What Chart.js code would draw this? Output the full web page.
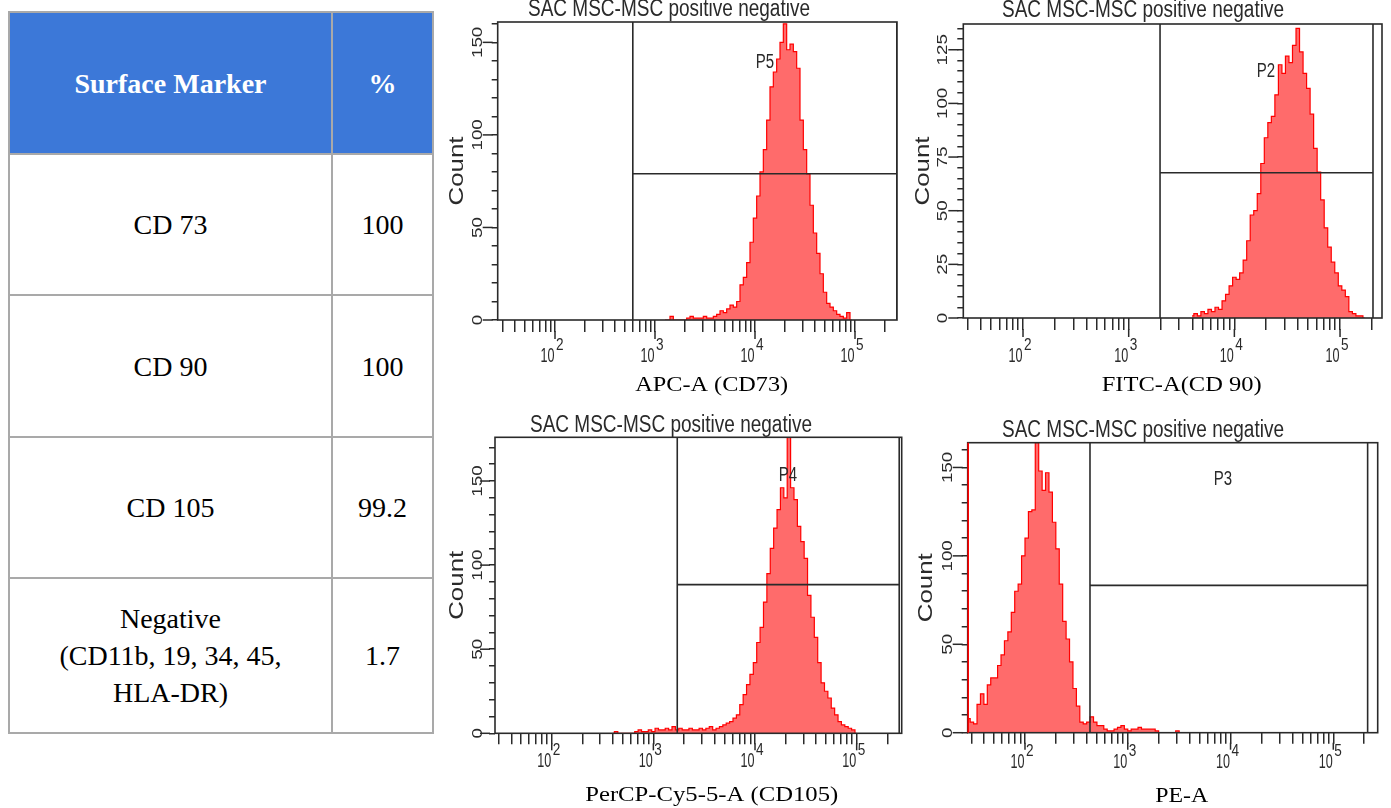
<!DOCTYPE html>
<html>
<head>
<meta charset="utf-8">
<script src="https://cdn.jsdelivr.net/npm/chart.js@4.4.1/dist/chart.umd.min.js"></script>
<style>
  body { margin: 0; width: 1391px; height: 808px; background: #fff; position: relative; overflow: hidden; }
  #markers { position: absolute; left: 8px; top: 11px; width: 424px; border-collapse: collapse; table-layout: fixed;
             font-family: 'Liberation Serif', 'Times New Roman', serif; font-size: 28px; color: #000; }
  #markers th, #markers td { border: 2px solid #a9a9a9; text-align: center; vertical-align: middle; padding: 0; line-height: 37px; }
  #markers th { background: #3c78d8; color: #fff; font-weight: bold; }
  canvas { position: absolute; }
</style>
</head>
<body>
<table id="markers">
  <colgroup><col style="width:323px"><col style="width:101px"></colgroup>
</table>
<canvas id="c1"></canvas>
<canvas id="c2"></canvas>
<canvas id="c3"></canvas>
<canvas id="c4"></canvas>
<script>
// Table values
const markers = ['CD 73', 'CD 90', 'CD 105', 'Negative\n(CD11b, 19, 34, 45,\nHLA-DR)'];
const percents = ['100', '100', '99.2', '1.7'];

// Histogram channels, equal widths on the log axis (decades)
const binWidth = 1 / 30;

// APC-A (CD73), first channel at 10^3.1
const cd73Start = 3.1;
const cd73Counts = [0, 0, 2, 0, 0, 0, 0, 1, 2, 1, 1, 1, 2, 1, 1, 2, 3, 5, 4, 6, 8, 7, 10, 19, 23, 31, 42, 55, 67, 80,
  92, 108, 126, 134, 141, 150, 160, 146, 149, 145, 136, 108, 92, 79, 62, 47, 36, 25, 15, 9, 7, 5, 3, 2, 1, 4, 0];

// FITC-A (CD90), first channel at 10^3.6
const cd90Start = 3.6;
const cd90Counts = [1, 2, 1, 3, 2, 4, 3, 5, 4, 8, 11, 15, 19, 18, 21, 27, 36, 48, 50, 58, 72, 84, 91, 94, 104, 118,
  114, 122, 119, 127, 135, 124, 114, 107, 95, 79, 68, 55, 42, 33, 26, 21, 15, 13, 10, 3, 2, 1, 1, 0];

// PerCP-Cy5-5-A (CD105), first channel at 10^2.6
const cd105Start = 2.6;
const cd105Counts = [0, 1, 0, 0, 0, 0, 0, 1, 2, 1, 1, 2, 1, 3, 2, 2, 3, 2, 4, 2, 3, 2, 2, 3, 2, 2, 3, 2, 3, 4, 2, 3,
  4, 5, 6, 7, 9, 11, 17, 23, 29, 35, 42, 54, 63, 78, 95, 110, 122, 133, 146, 140, 176, 146, 139, 123, 114, 104, 82,
  69, 57, 42, 30, 25, 21, 15, 11, 7, 5, 4, 3, 2, 0];

// PE-A, first channel at 10^1.45
const peStart = 1.45;
const peCounts = [8, 6, 5, 16, 22, 16, 27, 31, 31, 38, 44, 52, 57, 68, 80, 84, 100, 110, 125, 126, 164, 148, 137, 147,
  136, 119, 104, 84, 63, 53, 40, 25, 15, 6, 5, 6, 9, 6, 4, 4, 2, 1, 1, 2, 3, 4, 2, 1, 2, 2, 3, 2, 2, 2, 2, 1, 0, 0, 0,
  0, 0, 1, 0];

// Gates: [left, right, height]
const cd73Gate = [600, 262144, 79];
const cd90Gate = [1980, 205000, 67.7];
const cd105Gate = [1718, 262144, 88.4];
const peGate = [429, 215800, 83.3];

// Gate names: [name, x, count]
const cd73Tag = ['P5', 12600, 139];
const cd90Tag = ['P2', 19860, 115];
const cd105Tag = ['P4', 21090, 153];
const peTag = ['P3', 8430, 143];

// Axis ticks
const xTickValues = [30, 40, 50, 60, 70, 80, 90, 100, 200, 300, 400, 500, 600, 700, 800, 900, 1000, 2000, 3000, 4000,
  5000, 6000, 7000, 8000, 9000, 10000, 20000, 30000, 40000, 50000, 60000, 70000, 80000, 90000, 100000, 200000];
const xDecades = [100, 1000, 10000, 100000];
const xDecadeExp = ['2', '3', '4', '5'];
const countLabelsA = [0, 50, 100, 150];
const countLabelsB = [0, 25, 50, 75, 100, 125];

const plotTitle = 'SAC MSC-MSC positive negative';

// Build the table
const table = document.getElementById('markers');
let html = '<tr style="height:142px"><th>Surface Marker</th><th>%</th></tr>';
const rowHeights = [141, 142, 141, 155];
markers.forEach((m, i) => {
  html += `<tr style="height:${rowHeights[i]}px"><td>${m.replace(/\n/g, '<br>')}</td><td>${percents[i]}</td></tr>`;
});
table.insertAdjacentHTML('beforeend', html);

// Panel layout (page pixels)
const panels = [
  { id: 'c1', canvas: [440, 0, 468, 405], area: [497.7, 22, 897, 320], xr: [1.427, 5.42], yMax: 161, minor: 10, major: 50,
    yLabels: countLabelsA, start: cd73Start, counts: cd73Counts, gate: cd73Gate, tag: cd73Tag,
    title: [669, 16], xTitle: ['APC-A (CD73)', 711.7, 391, 153], countGap: 40.7, yLabelGap: 19.7, xLabelOff: 41.7, tl: [12, 19] },
  { id: 'c2', canvas: [908, 0, 483, 405], area: [963.3, 24, 1382, 318], xr: [1.435, 5.397], yMax: 137, minor: 5, major: 25,
    yLabels: countLabelsB, start: cd90Start, counts: cd90Counts, gate: cd90Gate, tag: cd90Tag,
    title: [1143, 17], xTitle: ['FITC-A(CD 90)', 1181.7, 391, 160], countGap: 40.3, yLabelGap: 20.3, xLabelOff: 43.7, tl: [12, 19] },
  { id: 'c3', canvas: [440, 405, 468, 403], area: [495, 437.3, 901.7, 733.3], xr: [1.442, 5.443], yMax: 176, minor: 10, major: 50,
    yLabels: countLabelsA, start: cd105Start, counts: cd105Counts, gate: cd105Gate, tag: cd105Tag,
    title: [671, 432], xTitle: ['PerCP-Cy5-5-A (CD105)', 711.7, 801, 253], countGap: 37.5, yLabelGap: 17.3, xLabelOff: 33.4, tl: [11, 17] },
  { id: 'c4', canvas: [908, 405, 483, 403], area: [967.7, 442.7, 1377.7, 732.7], xr: [1.4425, 5.432], yMax: 164, minor: 10, major: 50,
    yLabels: countLabelsA, start: peStart, counts: peCounts, gate: peGate, tag: peTag,
    title: [1143, 437], xTitle: ['PE-A', 1181.7, 802, 53], countGap: 41, yLabelGap: 19.7, xLabelOff: 35.6, tl: [11, 17], redEdge: true }
];

const INK = '#2a2a2a';
const SANS = "'Liberation Sans', Arial, sans-serif";
const SERIF = "'Liberation Serif', 'Times New Roman', serif";

// text drawn with its own x/y scale, optional rotation
function drawText(ctx, text, x, y, font, sx, sy, align, baseline, rot) {
  ctx.save();
  ctx.font = font;
  ctx.translate(x, y);
  if (rot) ctx.rotate(rot);
  ctx.scale(sx, sy);
  ctx.textAlign = align;
  ctx.textBaseline = baseline;
  ctx.fillText(text, 0, 0);
  ctx.restore();
}

function fitScale(ctx, text, font, width) {
  ctx.font = font;
  return width / ctx.measureText(text).width;
}

function facsPlugin(p, ox, oy) {
  return {
    id: 'facs',
    afterDraw(chart) {
      const { ctx, chartArea: a, scales: { x, y } } = chart;
      ctx.save();
      ctx.strokeStyle = INK;
      ctx.lineWidth = 1.6;
      ctx.strokeRect(a.left, a.top, a.right - a.left, a.bottom - a.top);
      if (p.redEdge) {
        ctx.strokeStyle = '#ff0000';
        ctx.beginPath(); ctx.moveTo(a.left + 0.5, a.top); ctx.lineTo(a.left + 0.5, a.bottom); ctx.stroke();
        ctx.strokeStyle = INK;
      }
      ctx.lineWidth = 1.5;
      // longer ticks at decades and at major counts
      xDecades.forEach(v => {
        const px = x.getPixelForValue(v);
        ctx.beginPath(); ctx.moveTo(px, a.bottom + p.tl[0] - 1); ctx.lineTo(px, a.bottom + p.tl[1]); ctx.stroke();
      });
      p.yLabels.forEach(v => {
        const py = y.getPixelForValue(v);
        ctx.beginPath(); ctx.moveTo(a.left - 15, py); ctx.lineTo(a.left - 5, py); ctx.stroke();
      });
      ctx.fillStyle = INK;
      // decade labels
      xDecades.forEach((v, i) => {
        const px = x.getPixelForValue(v);
        const base = a.bottom + p.xLabelOff;
        drawText(ctx, '10', px - 0.5, base, '21px ' + SANS, 0.6, 1, 'right', 'alphabetic');
        drawText(ctx, xDecadeExp[i], px + 1, base - 12, '16px ' + SANS, 0.85, 1, 'left', 'alphabetic');
      });
      // count labels, rotated
      p.yLabels.forEach(v => {
        drawText(ctx, String(v), a.left - p.yLabelGap, y.getPixelForValue(v), '15px ' + SANS, 1.25, 1, 'center', 'middle', -Math.PI / 2);
      });
      const cy = (a.top + a.bottom) / 2;
      const cs = fitScale(ctx, 'Count', '21px ' + SANS, 69);
      drawText(ctx, 'Count', a.left - p.countGap, cy, '21px ' + SANS, cs, 1, 'center', 'middle', -Math.PI / 2);
      // plot title
      const ts = fitScale(ctx, plotTitle, '23px ' + SANS, 282);
      drawText(ctx, plotTitle, p.title[0] - ox, p.title[1] - oy, '23px ' + SANS, ts, 1, 'center', 'alphabetic');
      // gate name
      drawText(ctx, p.tag[0], x.getPixelForValue(p.tag[1]), y.getPixelForValue(p.tag[2]), '20px ' + SANS, 0.75, 1, 'center', 'middle');
      // parameter name
      ctx.fillStyle = '#000';
      const xs = fitScale(ctx, p.xTitle[0], '22px ' + SERIF, p.xTitle[3]);
      drawText(ctx, p.xTitle[0], p.xTitle[1] - ox, p.xTitle[2] - oy, '22px ' + SERIF, xs, 1, 'center', 'alphabetic');
      ctx.restore();
    }
  };
}

function makePanel(p) {
  const [cl, ct, cw, ch] = p.canvas;
  const canvas = document.getElementById(p.id);
  canvas.width = cw; canvas.height = ch;
  canvas.style.left = cl + 'px'; canvas.style.top = ct + 'px';
  canvas.style.width = cw + 'px'; canvas.style.height = ch + 'px';
  const YW = 20, XH = 25;
  const padding = {
    left: p.area[0] - cl - YW,
    top: p.area[1] - ct,
    right: cl + cw - p.area[2],
    bottom: ct + ch - p.area[3] - XH
  };
  const hist = p.counts.map((c, i) => ({ x: Math.pow(10, p.start + i * binWidth), y: c }));
  const [gl, gr, gh] = p.gate;
  const gate = [
    { x: gl, y: p.yMax }, { x: gl, y: 0 }, { x: gl, y: null },
    { x: gl, y: gh }, { x: gr, y: gh }, { x: gr, y: null },
    { x: gr, y: p.yMax }, { x: gr, y: 0 }
  ];
  const yTicks = [];
  for (let v = 0; v <= p.yMax; v += p.minor) yTicks.push({ value: v });

  new Chart(canvas, {
    type: 'line',
    data: {
      datasets: [
        { data: gate, order: 0, borderColor: INK, borderWidth: 1.6, pointRadius: 0, fill: false, spanGaps: false },
        { data: hist, order: 1, stepped: 'middle', fill: 'origin', borderColor: '#ff0000', backgroundColor: '#ff6b6b',
          borderWidth: 1.2, pointRadius: 0 }
      ]
    },
    options: {
      responsive: false,
      animation: false,
      events: [],
      layout: { padding },
      plugins: { legend: { display: false }, tooltip: { enabled: false }, title: { display: false } },
      scales: {
        x: {
          type: 'logarithmic',
          min: Math.pow(10, p.xr[0]),
          max: Math.pow(10, p.xr[1]),
          afterBuildTicks: s => { s.ticks = xTickValues.map(v => ({ value: v })); },
          afterFit: s => { s.height = XH; },
          ticks: { display: false },
          border: { display: false },
          grid: { drawOnChartArea: false, drawTicks: true, tickLength: p.tl[0], color: INK, lineWidth: 1.5 }
        },
        y: {
          type: 'linear',
          min: 0,
          max: p.yMax,
          afterBuildTicks: s => { s.ticks = yTicks.slice(); },
          afterFit: s => { s.width = YW; },
          ticks: { display: false },
          border: { display: false },
          grid: { drawOnChartArea: false, drawTicks: true, tickLength: 6, color: INK, lineWidth: 1.5 }
        }
      }
    },
    plugins: [facsPlugin(p, cl, ct)]
  });
}

panels.forEach(makePanel);
</script>
</body>
</html>
